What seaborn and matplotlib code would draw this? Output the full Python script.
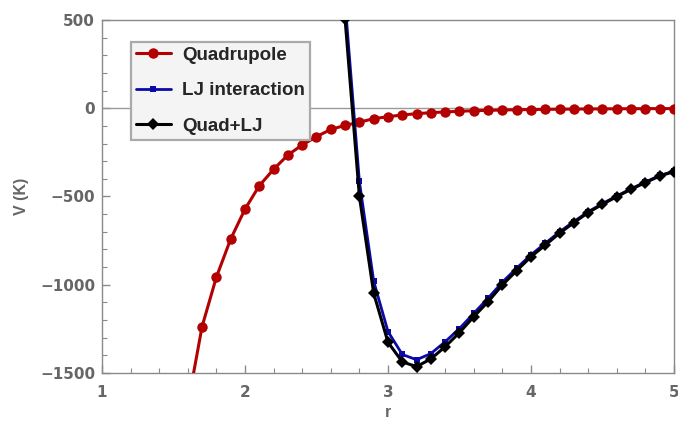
import numpy as np
import pandas as pd
import matplotlib
matplotlib.use("Agg")
import matplotlib.pyplot as plt
from matplotlib.ticker import MultipleLocator, FuncFormatter
import seaborn as sns

# separation r, sampled every 0.1
r_quad = [1.6, 1.7, 1.8, 1.9, 2.0, 2.1, 2.2, 2.3, 2.4, 2.5, 2.6, 2.7, 2.8, 2.9,
          3.0, 3.1, 3.2, 3.3, 3.4, 3.5, 3.6, 3.7, 3.8, 3.9, 4.0, 4.1, 4.2, 4.3,
          4.4, 4.5, 4.6, 4.7, 4.8, 4.9, 5.0]
v_quad = [-1680, -1237, -957, -741, -572, -439, -346, -265, -208, -161, -120,
          -97, -79, -59, -48, -38, -31, -25, -21, -17, -14, -12, -10, -8.5,
          -7.2, -6.2, -5.3, -4.6, -4.0, -3.5, -3.1, -2.7, -2.4, -2.1, -1.9]

r_lj = [2.7, 2.8, 2.9, 3.0, 3.1, 3.2, 3.3, 3.4, 3.5, 3.6, 3.7, 3.8, 3.9, 4.0,
        4.1, 4.2, 4.3, 4.4, 4.5, 4.6, 4.7, 4.8, 4.9, 5.0]
v_lj = [600, -415, -980, -1265, -1395, -1425, -1390, -1323, -1248, -1162,
        -1076, -985, -906, -830, -765, -700, -642, -586, -540, -497, -456,
        -418, -381, -357]
v_total = [505, -499, -1048, -1326, -1437, -1464, -1420, -1351, -1271, -1181,
           -1096, -1001, -920, -841, -775, -708, -648, -591, -544, -501, -459,
           -421, -384, -359]

labels = ["Quadrupole", "LJ interaction", "Quad+LJ"]

sns.set_style("white")
plt.rcParams['font.family'] = ['Liberation Sans', 'DejaVu Sans']

gray = "#666666"
frame_gray = "#8a8a8a"

fig = plt.figure(figsize=(6.78, 4.30), dpi=100)
ax = fig.add_axes([0.1504, 0.1326, 0.8437, 0.8209])

ax.axhline(0, color="#999999", lw=1.0, zorder=1)

sns.lineplot(x=r_quad, y=v_quad, ax=ax, color="#b30000", lw=2.2,
             marker="o", markersize=7.5, markeredgewidth=0, label=labels[0],
             zorder=3)
sns.lineplot(x=r_lj, y=v_lj, ax=ax, color="#0a0aa8", lw=2.0,
             marker="s", markersize=5, markeredgewidth=0, label=labels[1],
             zorder=4)
sns.lineplot(x=r_lj, y=v_total, ax=ax, color="black", lw=2.2,
             marker="D", markersize=6.5, markeredgewidth=0, label=labels[2],
             zorder=5)

ax.set_xlim(1, 5)
ax.set_ylim(-1500, 500)

ax.xaxis.set_major_locator(MultipleLocator(1))
ax.xaxis.set_minor_locator(MultipleLocator(0.2))
ax.yaxis.set_major_locator(MultipleLocator(500))
ax.yaxis.set_minor_locator(MultipleLocator(100))

fmt = FuncFormatter(lambda v, p: f"{v:.0f}".replace("-", "\u2212"))
ax.yaxis.set_major_formatter(fmt)
ax.xaxis.set_major_formatter(FuncFormatter(lambda v, p: f"{v:.0f}"))

ax.tick_params(which="both", direction="in", color=frame_gray,
               top=False, right=False, left=True, bottom=True)
ax.tick_params(which="major", length=6, width=1, labelsize=11,
               labelcolor=gray, pad=5)
ax.tick_params(axis="x", which="major", pad=9)
ax.tick_params(which="minor", length=3.5, width=0.8)
for lab in ax.get_xticklabels() + ax.get_yticklabels():
    lab.set_fontweight("bold")
    lab.set_family("DejaVu Sans")

for side in ax.spines.values():
    side.set_color(frame_gray)
    side.set_linewidth(1.0)

ax.set_xlabel("r", fontsize=11.5, fontweight="bold", color=gray, labelpad=3)
ax.set_ylabel("V (K)", fontsize=11.5, fontweight="bold", color=gray, labelpad=8)

leg = ax.legend(loc="upper left", bbox_to_anchor=(0.0505, 0.9372),
                prop={"weight": "bold", "size": 13.5}, frameon=True,
                fancybox=False, handlelength=1.9, handletextpad=0.58,
                labelspacing=0.98, borderpad=0.25, borderaxespad=0)
leg.get_frame().set_facecolor("#f4f4f4")
leg.get_frame().set_edgecolor("#aaaaaa")
leg.get_frame().set_linewidth(1.6)
leg.get_frame().set_alpha(1.0)

fig.savefig("out.png", dpi=100)
